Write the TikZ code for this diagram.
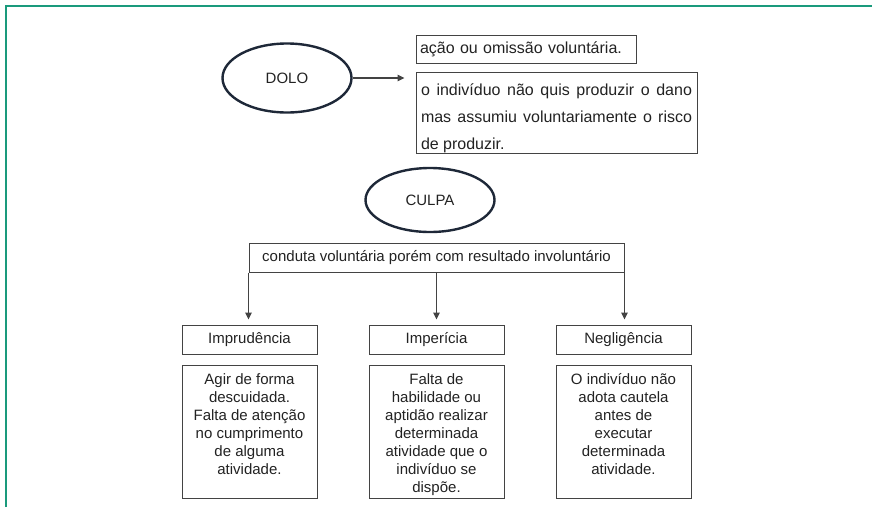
\documentclass[tikz,border=0pt]{standalone}
\usepackage{fontspec}
\setmainfont{Liberation Sans}
\usetikzlibrary{shapes.geometric,arrows.meta}
\definecolor{moldura}{HTML}{1A9A7C}
\definecolor{tinta}{HTML}{222222}
\definecolor{contorno}{HTML}{1E2838}
\tikzset{
  oval/.style={ellipse, draw=contorno, line width=2.4pt, inner sep=0pt, text=tinta},
  caixa/.style={rectangle, draw=tinta!85, line width=1pt, inner sep=0pt, text=tinta},
  seta/.style={draw=tinta!85, line width=1.1pt, -{Triangle[length=7pt,width=6.5pt]}},
}

\begin{document}
\begin{tikzpicture}[x=1pt, y=-1pt, font=\fontsize{15}{18}\selectfont]
\useasboundingbox (0,0) rectangle (872,507);
\draw[moldura, line width=2pt] (6,507) -- (6,6) -- (872,6);

% dolo
\node[oval, minimum width=129pt, minimum height=69pt] (dolo) at (287,78) {DOLO};
\node[caixa, minimum width=220pt, minimum height=28pt, text width=212pt, align=left,
  font=\fontsize{16}{19}\selectfont] (acao) at (526,49) {ação ou omissão voluntária.};
\node[caixa, minimum width=281pt, minimum height=81pt] (assumiu) at (556.5,112.5)
  {\parbox[c][71pt][t]{271pt}{\fontsize{16}{27}\selectfont\strut o indivíduo não quis produzir o dano\linebreak mas assumiu voluntariamente o risco\linebreak de produzir.}};
\draw[seta, shorten >=11pt] (dolo.east) -- (dolo.east -| assumiu.west);

% culpa
\node[oval, minimum width=129pt, minimum height=64pt] (culpa) at (430,200) {CULPA};
\node[caixa, minimum width=375pt, minimum height=29pt] (conduta) at (436.5,257.5) {conduta voluntária porém com resultado involuntário};

\node[caixa, minimum width=135pt, minimum height=29pt] (impr) at (249.5,339.5) {Imprudência};
\node[caixa, minimum width=135pt, minimum height=29pt] (imper) at (436.5,339.5) {Imperícia};
\node[caixa, minimum width=135pt, minimum height=29pt] (negl) at (623.5,339.5) {Negligência};
\draw[seta, shorten >=5pt] (conduta.south west) -- (conduta.south west |- impr.north);
\draw[seta, shorten >=5pt] (conduta.south) -- (conduta.south |- imper.north);
\draw[seta, shorten >=5pt] (conduta.south east) -- (conduta.south east |- negl.north);

\node[caixa, minimum width=135pt, minimum height=133pt] (agir) at (249.5,431.5)
  {\parbox[c][119pt][t]{127pt}{\centering\strut Agir de forma\\ descuidada.\\ Falta de atenção\\ no cumprimento\\ de alguma\\ atividade.}};
\node[caixa, minimum width=135pt, minimum height=133pt] (falta) at (436.5,431.5)
  {\parbox[c][119pt][t]{127pt}{\centering\strut Falta de\\ habilidade ou\\ aptidão realizar\\ determinada\\ atividade que o\\ indivíduo se\\ dispõe.}};
\node[caixa, minimum width=135pt, minimum height=133pt] (cautela) at (623.5,431.5)
  {\parbox[c][119pt][t]{127pt}{\centering\strut O indivíduo não\\ adota cautela\\ antes de\\ executar\\ determinada\\ atividade.}};
\end{tikzpicture}
\end{document}
